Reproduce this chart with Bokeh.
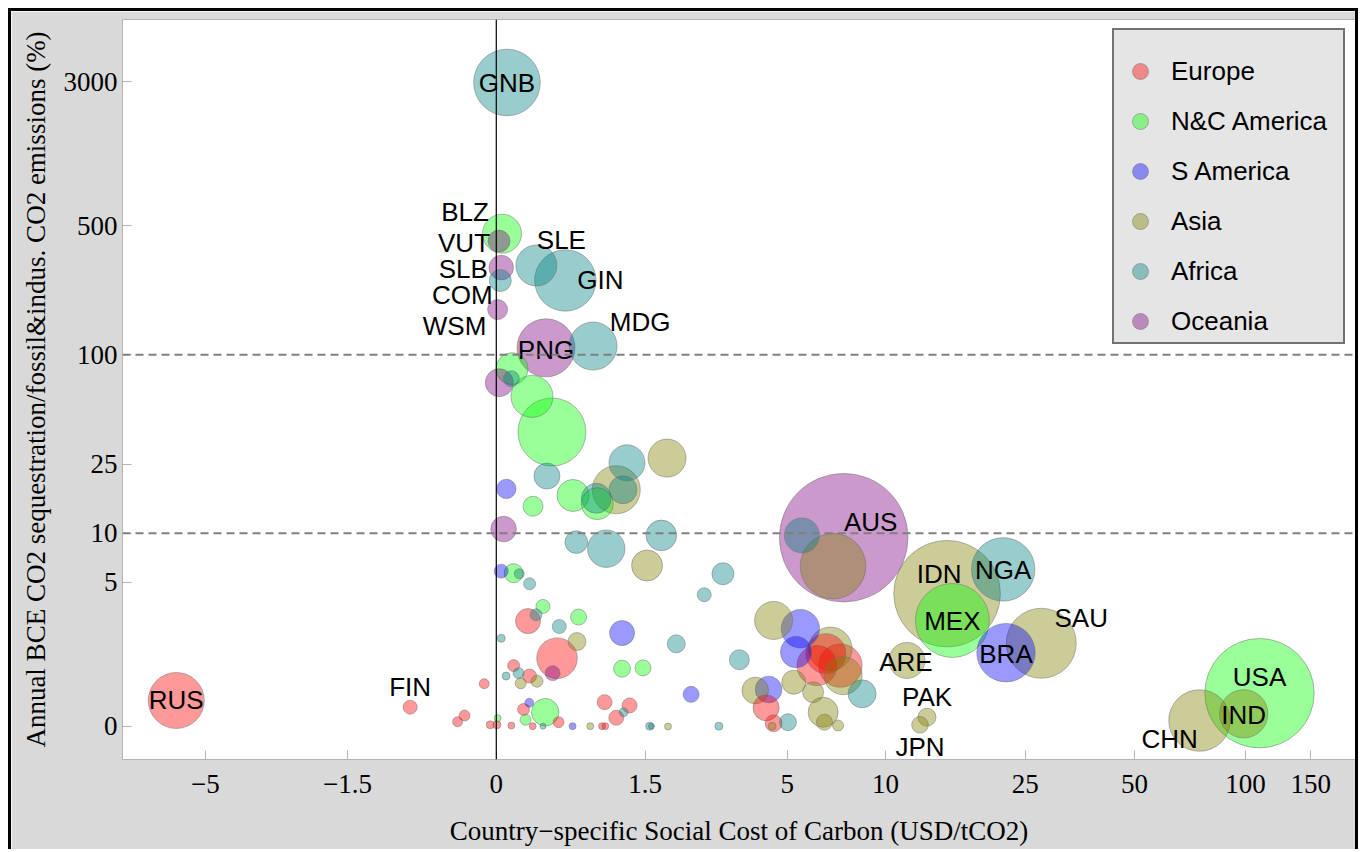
import numpy as np
from bokeh.plotting import figure
from bokeh.models import Span, FixedTicker, Legend, LegendItem, ColumnDataSource, Range1d
from bokeh.core.properties import value
from bokeh.embed import file_html
from bokeh.resources import INLINE

# ---------------- data ----------------
regions = ["Europe", "N&C America", "S America", "Asia", "Africa", "Oceania"]
region_colors = ["#ff0000", "#00ff00", "#0000ff", "#808000", "#008080", "#800080"]

# x: country-specific SCC (USD/tCO2), y: BCE sequestration / emissions (%), area: bubble area
eu_code = ["RUS", "FIN"]
eu_scc = [-6.18, -0.70, 0.216, 0.454, 0.113, 0.228, -0.077, 0.183, 0.468, 0.949, 1.273, 1.094, -0.216,
          -0.269, -0.038, 0.004, 0.097, 0.251, 0.918, 0.957, 6.21, 6.62, 7.33, 4.27, 4.52]
eu_bce = [0.381, 0.271, 2.70, 1.335, 1.13, 0.87, 0.70, 0.235, 0.055, 0.352, 0.298, 0.114, 0.146,
          0.060, 0.021, 0.021, 0.012, 0.004, 0.004, 0.004, 1.13, 1.47, 1.13, 0.261, 0.042]
eu_area = [784, 49, 156, 412, 36, 49, 25, 36, 30, 56, 56, 56, 30, 25, 16, 16, 12, 12, 12, 12,
           400, 400, 471, 169, 72]

na_code = ["BLZ", "MEX", "USA"]
na_scc = [0.036, 15.6, 109.1, 0.102, 0.246, 0.409, 0.604, 0.863, 0.254, 0.113, 0.333, 0.660, 1.170,
          1.469, 0.352, 0.198, 0.008]
na_bce = [453, 2.73, 0.512, 84, 59.2, 37.7, 16.6, 14.9, 14.4, 5.71, 3.44, 2.89, 1.05, 1.07, 0.194,
          0.087, 0.109]
na_area = [380, 1369, 2992, 256, 441, 1156, 256, 256, 100, 90, 49, 64, 72, 64, 188, 30, 12]

sa_code = ["BRA"]
sa_scc = [22.1, 0.064, 0.031, 1.170, 2.32, 0.225, 0.600, 5.51, 5.34, 4.35]
sa_bce = [1.50, 18.1, 5.88, 2.19, 0.49, 0.342, 0.004, 2.365, 1.52, 0.583]
sa_area = [853, 94, 49, 156, 64, 20, 12, 369, 246, 177]

as_code = ["IDN", "SAU", "ARE", "PAK", "JPN", "CHN", "IND"]
as_scc = [15.07, 27.7, 11.55, 13.2, 12.6, 75.1, 98.9, 6.96, 1.863, 1.094, 1.531, 0.644, 0.162,
          0.285, 0.784, 1.880, 4.52, 6.83, 7.47, 5.25, 6.04, 6.49, 6.55, 7.21, 3.93, 4.47]
as_bce = [4.2, 1.81, 1.27, 0.122, 0.021, 0.077, 0.171, 6.32, 27.0, 17.9, 6.38, 1.87, 0.71,
          0.755, 0.004, 0.0, 2.73, 1.625, 0.88, 0.733, 0.531, 0.194, 0.055, 0.012, 0.564, 0.004]
as_area = [2841, 1225, 324, 81, 69, 949, 586, 1076, 361, 576, 240, 81, 30, 36, 12, 12, 361, 471,
           361, 144, 110, 225, 64, 30, 177, 16]

af_code = ["GNB", "COM", "SLE", "GIN", "MDG", "NGA"]
af_scc = [0.068, 0.025, 0.280, 0.530, 0.815, 21.7, 5.57, 0.097, 1.237, 1.183, 0.852, 0.366, 0.637,
          0.969, 1.764, 0.152, 3.04, 0.228, 0.277, 0.474, 0.031, 2.03, 2.60, 3.47, 0.147, 0.062,
          1.191, 0.333, 1.572, 1.599, 2.94, 8.52, 5.03]
af_bce = [2964, 253, 305, 253, 111.5, 6.03, 9.72, 74, 25.4, 17.9, 16.0, 21.4, 8.86, 8.09, 9.72,
          5.66, 5.66, 4.88, 3.00, 2.46, 1.99, 1.79, 4.13, 1.29, 0.94, 0.87, 0.194, 0.004, 0.004,
          0.004, 0.004, 0.50, 0.055]
af_area = [1109, 121, 420, 942, 576, 1005, 306, 64, 324, 196, 225, 169, 128, 350, 234, 25, 121,
           36, 36, 49, 16, 81, 49, 100, 30, 16, 20, 9, 16, 9, 16, 196, 72]

oc_code = ["AUS", "VUT", "SLB", "WSM", "PNG"]
oc_scc = [7.50, 0.017, 0.031, 0.008, 0.358, 0.019, 0.046, 0.415]
oc_bce = [9.42, 413, 297, 176, 109, 70.4, 10.6, 0.94]
oc_area = [4134, 121, 151, 100, 841, 196, 164, 56]

x_ticks = [-5, -1.5, 0, 1.5, 5, 10, 25, 50, 100, 150]
x_tick_labels = ["\u22125", "\u22121.5", "0", "1.5", "5", "10", "25", "50", "100", "150"]
y_ticks = [0, 5, 10, 25, 100, 500, 3000]
y_tick_labels = ["0", "5", "10", "25", "100", "500", "3000"]
y_ref_lines = [10, 100]

# label placement (screen-pixel offsets from the bubble centre)
label_offsets = {
    "RUS": (0, 0), "FIN": (0, -20), "GNB": (0, 0), "BLZ": (-37, -22), "VUT": (-35, 2),
    "SLB": (-38, 1), "COM": (-38, 15), "WSM": (-43, 16), "SLE": (25, -25), "GIN": (35, 0),
    "MDG": (47, -24), "PNG": (0, 2), "AUS": (27, -16), "IDN": (-8, -20), "NGA": (0, 1),
    "MEX": (0, 1), "BRA": (0, 1), "SAU": (40, -25), "ARE": (-1, 2), "PAK": (0, -20),
    "JPN": (0, 22), "CHN": (-30, 18), "USA": (0, -16), "IND": (0, 1),
}


def fwd(v):
    v = np.asarray(v, dtype=float)
    return np.sign(v) * np.log1p(np.abs(v))


groups = [
    (eu_code, eu_scc, eu_bce, eu_area),
    (na_code, na_scc, na_bce, na_area),
    (sa_code, sa_scc, sa_bce, sa_area),
    (as_code, as_scc, as_bce, as_area),
    (af_code, af_scc, af_bce, af_area),
    (oc_code, oc_scc, oc_bce, oc_area),
]

rows = []
for (codes, scc, bce, area), col in zip(groups, region_colors):
    codes = list(codes) + [""] * (len(scc) - len(codes))
    for c, xv, yv, av in zip(codes, scc, bce, area):
        rows.append((c, xv, yv, av, col))
rows.sort(key=lambda r: -r[3])

src = ColumnDataSource(dict(
    x=fwd([r[1] for r in rows]),
    y=fwd([r[2] for r in rows]),
    d=2 * np.sqrt([r[3] for r in rows]),
    c=[r[4] for r in rows],
))

lab = [r for r in rows if r[0]]
lsrc = ColumnDataSource(dict(
    x=fwd([r[1] for r in lab]),
    y=fwd([r[2] for r in lab]),
    t=[r[0] for r in lab],
    dx=[label_offsets[r[0]][0] for r in lab],
    dy=[label_offsets[r[0]][1] for r in lab],
))

# ---------------- figure ----------------
W, H = 1350, 841
p = figure(width=W, height=H, output_backend="svg", toolbar_location=None,
           x_range=Range1d(-2.3025, 5.2927), y_range=Range1d(-0.4098, 8.777),
           min_border_left=111, min_border_top=8, min_border_right=6, min_border_bottom=93)
p.styles = {"margin-left": "8px", "margin-top": "8px",
            "border-top": "3px solid black", "border-left": "3px solid black",
            "border-right": "3px solid black"}
p.border_fill_color = "#d9d9d9"
p.background_fill_color = "white"
p.outline_line_color = "#b4b4b4"
p.outline_line_width = 1
p.grid.visible = False

serif = "Liberation Serif"
for ax in (p.xaxis[0], p.yaxis[0]):
    ax.axis_line_color = None
    ax.major_tick_in = 9
    ax.major_tick_out = 0
    ax.major_tick_line_color = "#b4b4b4"
    ax.minor_tick_line_color = None
    ax.major_label_text_font = serif
    ax.major_label_text_font_size = "27px"
    ax.major_label_text_color = "black"
    ax.axis_label_text_font = serif
    ax.axis_label_text_font_size = "27px"
    ax.axis_label_text_font_style = "normal"
    ax.axis_label_text_color = "black"

xt = [float(t) for t in fwd(x_ticks)]
yt = [float(t) for t in fwd(y_ticks)]
p.xaxis.ticker = FixedTicker(ticks=xt)
p.yaxis.ticker = FixedTicker(ticks=yt)
p.xaxis.major_label_overrides = {t: l for t, l in zip(xt, x_tick_labels)}
p.yaxis.major_label_overrides = {t: l for t, l in zip(yt, y_tick_labels)}
p.xaxis.major_label_standoff = 15
p.yaxis.major_label_standoff = 5
p.xaxis.axis_label = "Country\u2212specific Social Cost of Carbon (USD/tCO2)"
p.yaxis.axis_label = "Annual BCE CO2 sequestration/fossil&indus. CO2 emissions (%)"
p.xaxis.axis_label_standoff = 20
p.yaxis.axis_label_standoff = 10

for yv in fwd(y_ref_lines):
    p.add_layout(Span(location=float(yv), dimension="width", line_color="#808080",
                      line_width=2, line_dash="8 5"))
p.add_layout(Span(location=0, dimension="height", line_color="black", line_width=1.2))

bubbles = p.scatter(x="x", y="y", size="d", source=src, fill_color="c", fill_alpha=0.4,
                    line_color="#707070", line_alpha=0.5, line_width=1)

p.text(x="x", y="y", text="t", x_offset="dx", y_offset="dy", source=lsrc,
       text_align="center", text_baseline="middle", text_font=value("Liberation Sans"),
       text_font_size="26px", text_color="black")

colors_sorted = [r[4] for r in rows]
items = []
for reg, col in zip(regions, region_colors):
    items.append(LegendItem(label=reg, renderers=[bubbles], index=colors_sorted.index(col)))

legend = Legend(items=items, location=(990, 415), orientation="vertical",
                glyph_width=50, glyph_height=40, label_standoff=6, label_width=171,
                spacing=10, padding=1, margin=0,
                title=" ", title_text_font_size="12px", title_standoff=6,
                label_text_font="Liberation Sans", label_text_font_size="26px",
                label_text_color="black",
                border_line_color="black", border_line_width=2,
                background_fill_color="#e5e5e5", background_fill_alpha=1.0)
p.add_layout(legend)

open("out.html", "w").write(file_html(p, INLINE))
